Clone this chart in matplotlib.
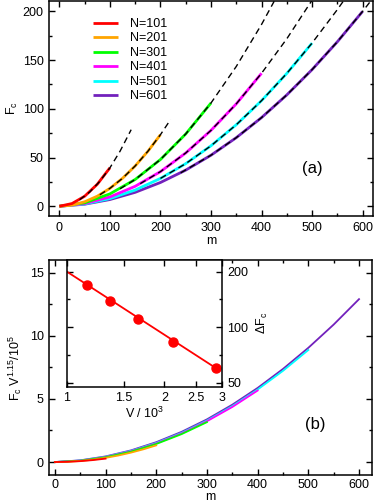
import numpy as np
import matplotlib
matplotlib.use("Agg")
import matplotlib.pyplot as plt
from matplotlib.ticker import MultipleLocator, FixedLocator, NullLocator, NullFormatter

plt.rcParams['font.family'] = ['Liberation Sans', 'DejaVu Sans']
plt.rcParams['mathtext.fontset'] = 'custom'
plt.rcParams['mathtext.rm'] = 'Liberation Sans'
plt.rcParams['mathtext.it'] = 'Liberation Sans:italic'

# ---- data ----
N_values = [101, 201, 301, 401, 501, 601]
colors = ['#ff0000', '#ffa500', '#00ff00', '#ff00ff', '#00ffff', '#7221bc']

m_101 = [0, 25, 50, 75, 100]
F_101 = [0, 2.8, 10.3, 22.6, 39.5]
m_201 = [0, 25, 50, 75, 100, 125, 150, 175, 200]
F_201 = [0, 1.15, 4.6, 10.35, 18.4, 28.75, 41.4, 56.35, 73.5]
m_301 = [0, 50, 100, 150, 200, 250, 300]
F_301 = [0, 3.5, 12.7, 27.5, 48.0, 74.2, 106]
m_401 = [0, 50, 100, 150, 200, 250, 300, 350, 400]
F_401 = [0, 2.75, 9.6, 20.5, 35.55, 54.7, 77.9, 105.1, 136.5]
m_501 = [0, 50, 100, 150, 200, 250, 300, 350, 400, 450, 500]
F_501 = [0, 2.35, 7.9, 16.65, 28.6, 43.75, 62.1, 83.65, 108.4, 136.35, 167.5]
m_601 = [0, 50, 100, 150, 200, 250, 300, 350, 400, 450, 500, 550, 600]
F_601 = [0, 2.1, 6.9, 14.3, 24.4, 37.1, 52.4, 70.4, 91.0, 114.3, 140.25, 168.8, 200]

# dashed fits
mfit_101 = [40, 60, 80, 100, 120, 142]
Ffit_101 = [6.7, 14.6, 25.6, 39.5, 56.5, 78.6]
mfit_201 = [80, 100, 125, 150, 175, 200, 220]
Ffit_201 = [11.8, 18.4, 28.75, 41.4, 56.35, 73.5, 89.0]
mfit_301 = [120, 150, 200, 250, 300, 350, 400, 425]
Ffit_301 = [18.0, 27.5, 48.0, 74.2, 106, 143.5, 186.6, 210.4]
mfit_401 = [160, 200, 250, 300, 350, 400, 450, 500]
Ffit_401 = [23.2, 35.55, 54.7, 77.9, 105.1, 136.5, 171.9, 211.5]
mfit_501 = [200, 250, 300, 350, 400, 450, 500, 550, 570]
Ffit_501 = [28.6, 43.75, 62.1, 83.65, 108.4, 136.35, 167.5, 201.85, 216.5]
mfit_601 = [240, 300, 350, 400, 450, 500, 550, 600, 620]
Ffit_601 = [34.3, 52.4, 70.4, 91.0, 114.3, 140.25, 168.8, 200, 213.3]

# V^1.15 / 10^5 for each N (collapse factor of panel b)
collapse = [0.00684, 0.01796, 0.0298, 0.04147, 0.05296, 0.0645]

# inset
V_pts = [1.157, 1.36, 1.661, 2.12, 2.88]
dF_pts = [169.5, 138.8, 110.3, 83.4, 59.9]
V_fit = [1.0, 2.88]
dF_fit = [200, 59.9]

curves = [(m_101, F_101), (m_201, F_201), (m_301, F_301),
          (m_401, F_401), (m_501, F_501), (m_601, F_601)]
fits = [(mfit_101, Ffit_101), (mfit_201, Ffit_201), (mfit_301, Ffit_301),
        (mfit_401, Ffit_401), (mfit_501, Ffit_501), (mfit_601, Ffit_601)]

W, H = 374, 504
fig = plt.figure(figsize=(W / 100, H / 100), dpi=100)


def box(x0, y0, x1, y1):
    return [x0 / W, (H - y1) / H, (x1 - x0) / W, (y1 - y0) / H]


ax_a = fig.add_axes(box(49.3, 0.7, 372.7, 216))
ax_b = fig.add_axes(box(49.3, 260, 371.7, 475.3))
ax_in = fig.add_axes(box(66.7, 260, 221.7, 386.7))


def style(ax):
    for s in ax.spines.values():
        s.set_linewidth(1.1)
    ax.tick_params(which='both', direction='in', top=True, right=True,
                   width=1.0, labelsize=9, pad=4)
    ax.tick_params(which='major', length=4)
    ax.tick_params(which='minor', length=2.2)


# ---- panel (a) ----
handles = []
for i in reversed(range(6)):
    m, F = curves[i]
    h, = ax_a.plot(m, F, color=colors[i], lw=2.0, label='N=%d' % N_values[i],
                   solid_capstyle='butt')
    handles.append(h)
for mf, Ff in fits:
    ax_a.plot(mf, Ff, color='black', lw=1.0, dashes=(4.5, 3))
handles = handles[::-1]
ax_a.set_xlim(-20, 620)
ax_a.set_ylim(-10, 211)
ax_a.xaxis.set_major_locator(MultipleLocator(100))
ax_a.xaxis.set_minor_locator(MultipleLocator(50))
ax_a.yaxis.set_major_locator(MultipleLocator(50))
ax_a.yaxis.set_minor_locator(MultipleLocator(25))
style(ax_a)
ax_a.set_xlabel('m', fontsize=9, labelpad=1)
ax_a.set_ylabel('F$_\\mathrm{c}$', fontsize=9, labelpad=2)
ax_a.legend(handles=handles, loc='upper left', bbox_to_anchor=(0.136, 0.92),
            frameon=False, fontsize=9, handlelength=2.0, handletextpad=0.9,
            labelspacing=0.2, borderpad=0, borderaxespad=0)
ax_a.text(500, 39, '(a)', fontsize=12, ha='center', va='center')

# ---- panel (b) ----
for i in reversed(range(6)):
    m, F = curves[i]
    G = np.array(F) * collapse[i]
    ax_b.plot(m, G, color=colors[i], lw=1.3)
ax_b.set_xlim(-11, 625)
ax_b.set_ylim(-1.05, 16)
ax_b.xaxis.set_major_locator(MultipleLocator(100))
ax_b.xaxis.set_minor_locator(MultipleLocator(50))
ax_b.yaxis.set_major_locator(MultipleLocator(5))
ax_b.yaxis.set_minor_locator(MultipleLocator(2.5))
style(ax_b)
ax_b.tick_params(axis='x', pad=2.5)
ax_b.set_xlabel('m', fontsize=9, labelpad=0.5)
ax_b.set_ylabel('F$_\\mathrm{c}$ V$^{1.15}$/10$^5$', fontsize=9, labelpad=4)
ax_b.text(513, 3.0, '(b)', fontsize=12, ha='center', va='center')

# ---- inset ----
ax_in.plot(V_fit, dF_fit, color='#ff0000', lw=1.3)
ax_in.plot(V_pts, dF_pts, 'o', color='#ff0000', ms=6.5, mec='#ff0000')
ax_in.set_xscale('log')
ax_in.set_yscale('log')
ax_in.set_xlim(1, 3)
ax_in.set_ylim(47.5, 231)
ax_in.xaxis.set_major_locator(FixedLocator([1, 1.5, 2, 2.5, 3]))
ax_in.xaxis.set_major_formatter(plt.FixedFormatter(['1', '1.5', '2', '2.5', '3']))
ax_in.xaxis.set_minor_locator(NullLocator())
ax_in.yaxis.set_major_locator(FixedLocator([50, 100, 200]))
ax_in.yaxis.set_major_formatter(plt.FixedFormatter(['50', '100', '200']))
ax_in.yaxis.set_minor_locator(FixedLocator([70.7, 141.4]))
ax_in.yaxis.set_minor_formatter(NullFormatter())
style(ax_in)
ax_in.tick_params(labelleft=False, labelright=True)
ax_in.yaxis.set_label_position('right')
ax_in.set_ylabel('ΔF$_\\mathrm{c}$', fontsize=9, labelpad=5)
ax_in.set_xlabel('V / 10$^3$', fontsize=9, labelpad=1)

fig.savefig('out.png', dpi=100)
